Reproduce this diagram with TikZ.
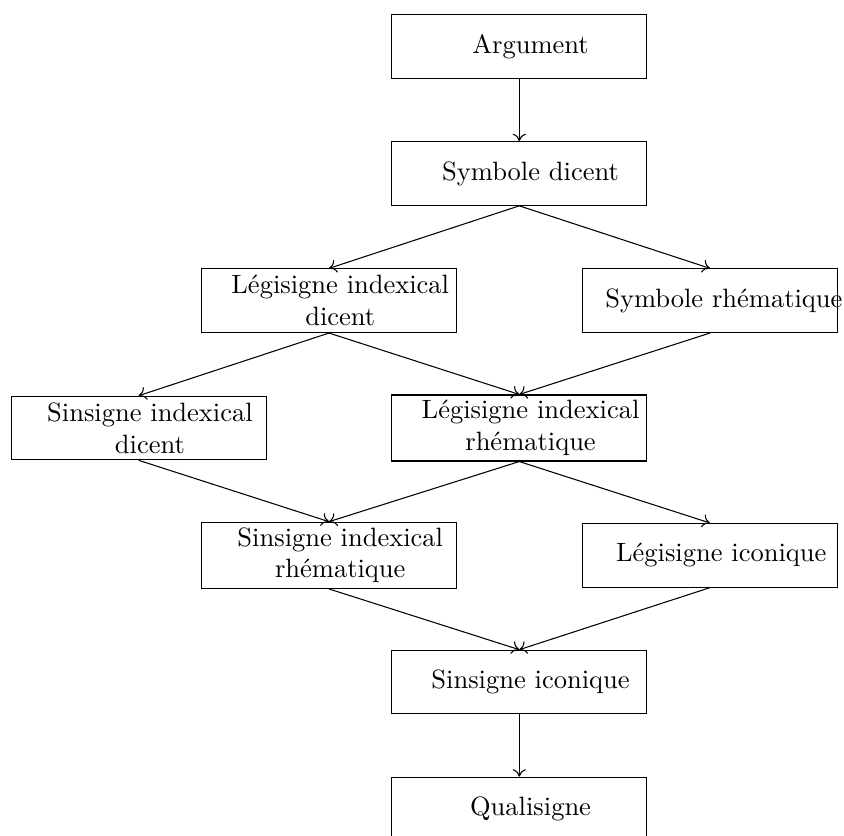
\documentclass[tikz,border=0pt]{standalone}
\usetikzlibrary{arrows.meta}
\begin{document}
\begin{tikzpicture}[x=0.37736pt,y=-0.37736pt,
  box/.style={draw, rectangle, minimum width=96.2pt, minimum height=24pt,
    inner xsep=0pt, inner ysep=2pt, text width=96pt,
    execute at begin node={\leftskip=8.5pt plus 1fil\rightskip=0pt plus 1fil\parfillskip=0pt\parindent=0pt\relax}},
  conn/.style={-{To[length=2.8pt,width=5pt]}}]
\useasboundingbox (0,0) rectangle (844,836);
\node[box] (arg) at (519.3,46.7) {Argument};
\node[box] (sd)  at (519.3,173.5) {Symbole dicent};
\node[box] (lid) at (329,300.7) {Légisigne indexical\par dicent};
\node[box] (sr)  at (710,300.7) {\mbox{Symbole rhématique}};
\node[box] (sid) at (138.7,428) {Sinsigne indexical\par dicent};
\node[box] (lir) at (519.3,428) {Légisigne indexical\par rhématique};
\node[box] (sir) at (329,555.3) {Sinsigne indexical\par rhématique};
\node[box] (li)  at (710,555.3) {Légisigne iconique};
\node[box] (si)  at (519.3,682) {Sinsigne iconique};
\node[box] (q)   at (519.3,809) {Qualisigne};
\draw[conn] (arg.south) -- (sd.north);
\draw[conn] (sd.south) -- (lid.north);
\draw[conn] (sd.south) -- (sr.north);
\draw[conn] (lid.south) -- (sid.north);
\draw[conn] (lid.south) -- (lir.north);
\draw[conn] (sr.south) -- (lir.north);
\draw[conn] (sid.south) -- (sir.north);
\draw[conn] (lir.south) -- (sir.north);
\draw[conn] (lir.south) -- (li.north);
\draw[conn] (sir.south) -- (si.north);
\draw[conn] (li.south) -- (si.north);
\draw[conn] (si.south) -- (q.north);
\end{tikzpicture}
\end{document}
